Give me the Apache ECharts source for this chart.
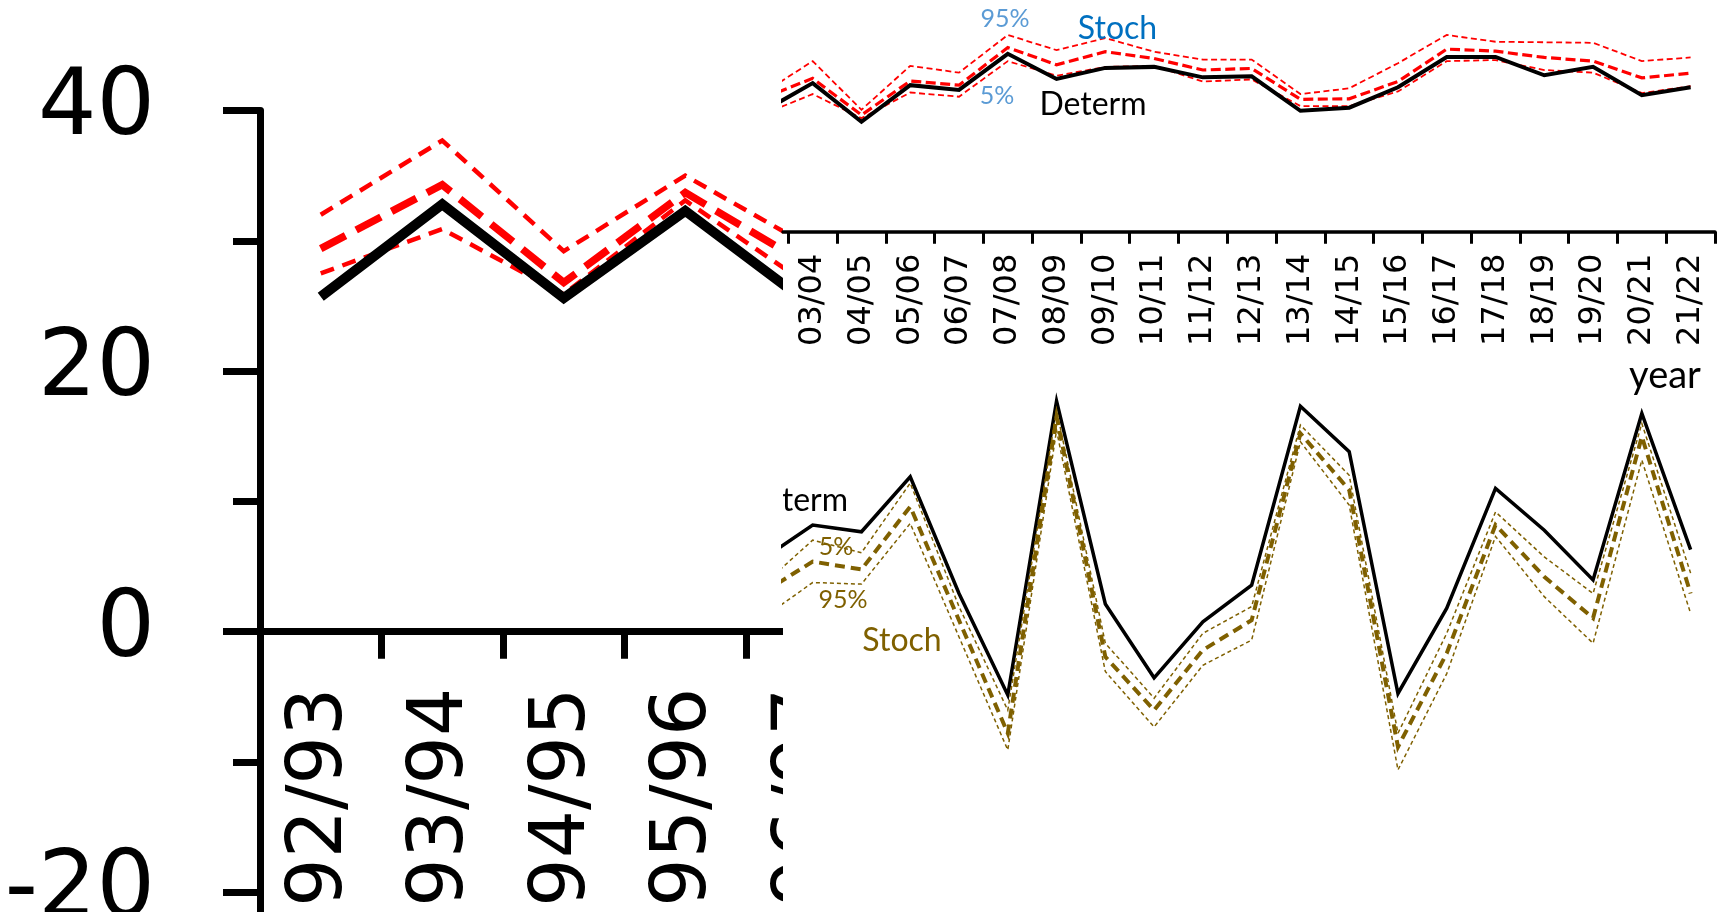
<!DOCTYPE html>
<html>
<head>
<meta charset="utf-8">
<script src="https://cdn.jsdelivr.net/npm/echarts@6/dist/echarts.min.js"></script>
<style>
  html, body { margin: 0; padding: 0; background: #ffffff; }
  #chart { width: 1725px; height: 912px; }
</style>
</head>
<body>
<div id="chart"></div>
<script>
// ---- Close-up panel: seasons 92/93 to 96/97 ----
const earlySeasons = ['92/93', '93/94', '94/95', '95/96', '96/97'];
const earlyDeterm = [25.7, 32.8, 25.6, 32.3, 25.3];
const earlyStochMedian = [29.4, 34.3, 26.8, 33.7, 28.2];
const earlyStoch95 = [32.0, 37.7, 29.2, 35.0, 29.7];
const earlyStoch5 = [27.5, 30.9, 25.9, 33.1, 26.7];

// ---- Overview panels: seasons 02/03 to 21/22 ----
const lateSeasons = ['02/03', '03/04', '04/05', '05/06', '06/07', '07/08', '08/09', '09/10', '10/11',
  '11/12', '12/13', '13/14', '14/15', '15/16', '16/17', '17/18', '18/19', '19/20', '20/21', '21/22'];

// upper overview (red stochastic band)
const lateDeterm = [23.1, 28.4, 21.0, 28.0, 27.1, 34.0, 29.2, 31.3, 31.5, 29.5, 29.7, 23.1, 23.7, 27.6, 33.4, 33.4, 29.9, 31.5, 26.1, 27.6];
const lateStochMedian = [25.6, 29.3, 22.3, 28.8, 28.0, 35.2, 31.9, 34.4, 33.1, 30.9, 31.2, 25.3, 25.4, 28.7, 34.9, 34.5, 33.3, 32.6, 29.4, 30.3];
const lateStoch95 = [26.6, 32.6, 23.3, 31.7, 30.4, 37.6, 34.7, 37.0, 34.4, 32.9, 32.9, 26.3, 27.4, 32.2, 37.6, 36.3, 36.2, 36.1, 32.6, 33.3];
const lateStoch5 = [22.5, 26.3, 21.7, 26.6, 25.8, 32.6, 29.8, 31.5, 31.7, 28.7, 29.1, 24.0, 24.0, 26.8, 32.6, 32.8, 30.9, 30.4, 26.5, 27.8];

// lower overview (brown stochastic band)
const changeDeterm = [0.3, 6.7, 5.4, 15.9, -6.4, -25.8, 30.4, -8.4, -22.5, -11.8, -4.8, 29.4, 20.7, -25.5, -9.2, 13.7, 5.7, -3.8, 28.0, 2.0];
const changeMedian = [-6.1, -0.3, -1.8, 10.2, -11.5, -33.1, 27.4, -18.5, -28.7, -17.2, -11.5, 24.2, 13.4, -35.7, -17.8, 6.7, -3.2, -11.1, 23.6, -6.4];
const change5 = [-4.6, 3.8, 1.4, 14.7, -8.9, -28.7, 28.7, -15.9, -26.4, -14.0, -8.9, 25.8, 16.2, -33.1, -14.0, 9.2, 0.6, -6.4, 26.1, -2.5];
const change95 = [-10.9, -4.3, -4.6, 7.0, -14.7, -36.3, 24.8, -21.3, -31.9, -20.1, -15.3, 22.6, 10.5, -40.1, -21.7, 4.5, -7.0, -15.9, 19.1, -10.2];

// ---- layout ----
const CLOSE_LEFT = 260, CLOSE_TOP = 110.5, CLOSE_WIDTH = 607.5;
const CLOSE_UNIT = 13.03;                    // px per unit on the close-up value axis
const INSET_LEFT = 783;     // left edge of the overview sheet
const TICK_LEFT = 788.3;    // first category boundary of the overview axis
const INSET_RIGHT = 1715;   // last category boundary
const shownSeasons = lateSeasons.slice(1);
const band = (INSET_RIGHT - TICK_LEFT) / shownSeasons.length;
const idxMax = shownSeasons.length - 0.5;
const idxMin = idxMax - (INSET_RIGHT - INSET_LEFT) / band;

// index 0 = 03/04, so 02/03 sits just off the sheet's left edge
const indexed = arr => arr.map((v, i) => [i - 1, v]);

const RED = '#ff0000';
const BROWN = '#7f6000';
const FONT_AXIS = 'DejaVu Sans';
const FONT_NOTE = 'Lato';

function line(name, data, xi, yi, color, width, dash, z) {
  return {
    name, type: 'line', data, xAxisIndex: xi, yAxisIndex: yi,
    symbol: 'none', showSymbol: false, z: z, silent: true,
    lineStyle: { color, width, type: dash || 'solid', cap: 'butt', join: 'miter' }
  };
}

const gridBase = { show: false, containLabel: false, outerBoundsMode: 'none' };
const grid = (rect) => Object.assign(rect, gridBase);

const option = {
  animation: false,
  backgroundColor: '#ffffff',
  grid: [
    // 0: close-up plot area, value range -40..40
    grid({ left: CLOSE_LEFT, top: CLOSE_TOP, width: CLOSE_WIDTH, height: 80 * CLOSE_UNIT }),
    // 1: red overview plot area
    grid({ left: INSET_LEFT, top: 22.4, width: INSET_RIGHT - INSET_LEFT, height: 209.3 }),
    // 2: red overview season axis
    grid({ left: TICK_LEFT, top: 22.4, width: INSET_RIGHT - TICK_LEFT, height: 209.3 }),
    // 3: brown overview plot area
    grid({ left: INSET_LEFT, top: 350.7, width: INSET_RIGHT - INSET_LEFT, height: 471 }),
    // 4: close-up season axis, sitting on the zero line
    grid({ left: CLOSE_LEFT, top: CLOSE_TOP, width: CLOSE_WIDTH, height: 40 * CLOSE_UNIT })
  ],
  xAxis: [
    { gridIndex: 0, type: 'category', data: earlySeasons, boundaryGap: true, show: false },
    {
      gridIndex: 1, type: 'value', min: idxMin, max: idxMax, z: 60,
      axisLine: { show: true, onZero: true, lineStyle: { color: '#000', width: 3.5 } },
      axisTick: { show: false }, axisLabel: { show: false }, splitLine: { show: false }
    },
    {
      gridIndex: 2, type: 'category', data: shownSeasons, boundaryGap: true, z: 60,
      axisLine: { show: false },
      axisTick: { show: true, length: 12, interval: 0, lineStyle: { color: '#000', width: 3 } },
      axisLabel: { interval: 0, rotate: 90, margin: 22, color: '#000', fontFamily: FONT_AXIS, fontSize: 32 },
      splitLine: { show: false }
    },
    { gridIndex: 3, type: 'value', min: idxMin, max: idxMax, show: false, splitLine: { show: false } },
    {
      gridIndex: 4, type: 'category', data: earlySeasons, boundaryGap: true,
      axisLine: { show: true, onZero: false, lineStyle: { color: '#000', width: 7 } },
      axisTick: { show: true, length: 27, interval: 0, lineStyle: { color: '#000', width: 7 } },
      axisLabel: { interval: 0, rotate: 90, margin: 56, padding: [20, 0, 0, 0],
        color: '#000', fontFamily: FONT_AXIS, fontSize: 76 },
      splitLine: { show: false }
    }
  ],
  yAxis: [
    {
      gridIndex: 0, type: 'value', min: -40, max: 40, interval: 20,
      axisLine: { show: true, onZero: false, lineStyle: { color: '#000', width: 7 } },
      axisTick: { show: true, length: 37, lineStyle: { color: '#000', width: 7 } },
      minorTick: { show: true, splitNumber: 2, length: 27, lineStyle: { color: '#000', width: 7 } },
      axisLabel: { margin: 105, color: '#000', fontFamily: FONT_AXIS, fontSize: 92 },
      splitLine: { show: false }, minorSplitLine: { show: false }
    },
    { gridIndex: 1, type: 'value', min: 0, max: 40, show: false, splitLine: { show: false } },
    { gridIndex: 2, type: 'value', min: 0, max: 40, show: false, splitLine: { show: false } },
    { gridIndex: 3, type: 'value', min: -50, max: 40, show: false, splitLine: { show: false } },
    { gridIndex: 4, type: 'value', min: 0, max: 40, show: false, splitLine: { show: false } }
  ],
  graphic: [
    // overview sheet laid over the close-up
    { type: 'rect', z: 50, silent: true,
      shape: { x: INSET_LEFT, y: 0, width: 1725 - INSET_LEFT, height: 912 },
      style: { fill: '#ffffff' } },
    // notes in the red panel
    { type: 'text', z: 70, x: 1005, y: 19, style: { text: '95%', font: '25px ' + FONT_NOTE, fill: '#5b9bd5', textAlign: 'center', textVerticalAlign: 'middle' } },
    { type: 'text', z: 70, x: 1117.5, y: 29, style: { text: 'Stoch', font: '32px ' + FONT_NOTE, fill: '#0070c0', textAlign: 'center', textVerticalAlign: 'middle' } },
    { type: 'text', z: 70, x: 997, y: 96, style: { text: '5%', font: '25px ' + FONT_NOTE, fill: '#5b9bd5', textAlign: 'center', textVerticalAlign: 'middle' } },
    { type: 'text', z: 70, x: 1093, y: 105, style: { text: 'Determ', font: '32px ' + FONT_NOTE, fill: '#000000', textAlign: 'center', textVerticalAlign: 'middle' } },
    { type: 'text', z: 70, x: 1665, y: 376, style: { text: 'year', font: '38px ' + FONT_NOTE, fill: '#000000', textAlign: 'center', textVerticalAlign: 'middle' } },
    // notes in the brown panel
    { type: 'text', z: 70, x: 848, y: 501, style: { text: 'Determ', font: '32px ' + FONT_NOTE, fill: '#000000', textAlign: 'right', textVerticalAlign: 'middle' } },
    { type: 'rect', z: 75, silent: true, shape: { x: 700, y: 484, width: INSET_LEFT - 700, height: 34 }, style: { fill: '#ffffff' } },
    { type: 'text', z: 70, x: 836, y: 547, style: { text: '5%', font: '25px ' + FONT_NOTE, fill: BROWN, textAlign: 'center', textVerticalAlign: 'middle' } },
    { type: 'text', z: 70, x: 843, y: 600, style: { text: '95%', font: '25px ' + FONT_NOTE, fill: BROWN, textAlign: 'center', textVerticalAlign: 'middle' } },
    { type: 'text', z: 70, x: 902, y: 641, style: { text: 'Stoch', font: '32px ' + FONT_NOTE, fill: BROWN, textAlign: 'center', textVerticalAlign: 'middle' } }
  ],
  series: [
    // close-up
    line('Stoch 95%', earlyStoch95, 0, 0, RED, 4.5, [14, 9], 2),
    line('Stoch 5%', earlyStoch5, 0, 0, RED, 4.5, [14, 9], 2),
    line('Stoch', earlyStochMedian, 0, 0, RED, 7.5, [28, 12], 2),
    line('Determ', earlyDeterm, 0, 0, '#000', 10, null, 3),
    // red overview
    line('Stoch 95%', indexed(lateStoch95), 1, 1, RED, 1.8, [6, 3.5], 60),
    line('Stoch 5%', indexed(lateStoch5), 1, 1, RED, 1.8, [6, 3.5], 60),
    line('Stoch', indexed(lateStochMedian), 1, 1, RED, 3.2, [10, 4.5], 60),
    line('Determ', indexed(lateDeterm), 1, 1, '#000', 4, null, 61),
    // brown overview
    line('Determ', indexed(changeDeterm), 3, 3, '#000', 3.5, null, 60),
    line('Stoch 5%', indexed(change5), 3, 3, BROWN, 1.5, [4, 3], 61),
    line('Stoch 95%', indexed(change95), 3, 3, BROWN, 1.5, [4, 3], 61),
    line('Stoch', indexed(changeMedian), 3, 3, BROWN, 4, [10, 6], 61)
  ]
};

const chart = echarts.init(document.getElementById('chart'), null, { renderer: 'canvas' });
chart.setOption(option);
</script>
</body>
</html>
